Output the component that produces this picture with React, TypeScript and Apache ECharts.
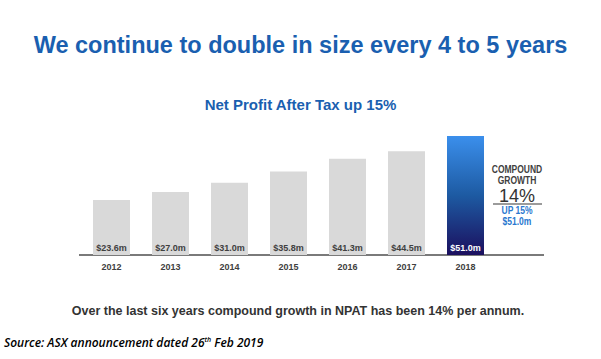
import React, { useEffect, useRef } from "react";
import * as echarts from "echarts";

const years = ["2012", "2013", "2014", "2015", "2016", "2017", "2018"];
const npat = [23.6, 27.0, 31.0, 35.8, 41.3, 44.5, 51.0];
const barLabels = ["$23.6m", "$27.0m", "$31.0m", "$35.8m", "$41.3m", "$44.5m", "$51.0m"];

const title = "We continue to double in size every 4 to 5 years";
const subtitle = "Net Profit After Tax up 15%";
const footnote = "Over the last six years compound growth in NPAT has been 14% per annum.";

const BLUE = "#1a5fb0";
const DARK = "#404040";
const SANS = "Liberation Sans";

export default function App() {
  const ref = useRef<HTMLDivElement>(null);
  useEffect(() => {
    const chart = echarts.init(ref.current!, null, { renderer: "svg" });
    const data = npat.map((v, i) => {
      const last = i === npat.length - 1;
      return {
        value: v,
        itemStyle: last
          ? {
              color: new echarts.graphic.LinearGradient(0, 0, 0, 1, [
                { offset: 0, color: "#3b8fec" },
                { offset: 0.5, color: "#1d5aa2" },
                { offset: 1, color: "#1b0f5e" },
              ]),
            }
          : { color: "#d9d9d9" },
        label: { color: last ? "#ffffff" : DARK },
      };
    });
    const small = (text: string, y: number, fill: string) => ({
      type: "text",
      x: 517,
      y,
      scaleX: 0.85,
      style: { text, fontFamily: SANS, fontWeight: "bold", fontSize: 10, fill, align: "center", verticalAlign: "middle" },
    });
    chart.setOption({
      animation: false,
      backgroundColor: "#ffffff",
      title: [
        {
          text: title,
          left: "center",
          top: 28,
          textStyle: { fontFamily: SANS, fontWeight: "bold", fontSize: 23.5, color: BLUE },
        },
        {
          text: subtitle,
          left: "center",
          top: 92,
          textStyle: { fontFamily: SANS, fontWeight: "bold", fontSize: 15, color: BLUE },
        },
      ],
      grid: { left: 82, width: 413, top: 115, bottom: 104, containLabel: false },
      xAxis: {
        type: "category",
        data: years,
        axisLine: { show: false },
        axisTick: { show: false },
        axisLabel: {
          fontFamily: SANS,
          fontWeight: "bold",
          fontSize: 9,
          color: DARK,
          margin: 7,
        },
      },
      yAxis: { type: "value", min: 0, max: 60, show: false, splitLine: { show: false } },
      series: [
        {
          type: "bar",
          data,
          barWidth: 37,
          label: {
            show: true,
            position: "insideBottom",
            distance: 3,
            fontFamily: SANS,
            fontWeight: "bold",
            fontSize: 9,
            formatter: (p: any) => barLabels[p.dataIndex],
          },
        },
      ],
      graphic: [
        { type: "line", shape: { x1: 79, y1: 255, x2: 544, y2: 255 }, style: { stroke: "#7a7a7a", lineWidth: 2 } },
        small("COMPOUND", 170, DARK),
        small("GROWTH", 181, DARK),
        {
          type: "text",
          x: 517,
          y: 196,
          style: { text: "14%", fontFamily: SANS, fontSize: 18, fill: "#333333", align: "center", verticalAlign: "middle" },
        },
        { type: "line", shape: { x1: 493, y1: 204, x2: 542, y2: 204 }, style: { stroke: "#7a7a7a", lineWidth: 1.5 } },
        small("UP 15%", 211, "#2a78cf"),
        small("$51.0m", 222, "#2a78cf"),
        {
          type: "text",
          x: 298,
          y: 311,
          style: { text: footnote, fontFamily: SANS, fontWeight: "bold", fontSize: 12.5, fill: "#333333", align: "center", verticalAlign: "middle" },
        },
        {
          type: "text",
          x: 4,
          y: 342,
          style: {
            text: "{a|Source: ASX announcement dated 26}{s|th}{a| Feb 2019}",
            verticalAlign: "middle",
            align: "left",
            rich: {
              a: { fontFamily: "Open Sans", fontStyle: "italic", fontSize: 12, fill: "#000000", fontWeight: 600 },
              s: { fontFamily: "Open Sans", fontStyle: "italic", fontSize: 7, fill: "#000000", verticalAlign: "top", padding: [0, 0, 5, 0], fontWeight: 600 },
            },
          },
        },
      ],
    });
    return () => chart.dispose();
  }, []);
  return <div ref={ref} style={{ position: "absolute", left: 0, top: 0, width: 601, height: 359 }} />;
}
